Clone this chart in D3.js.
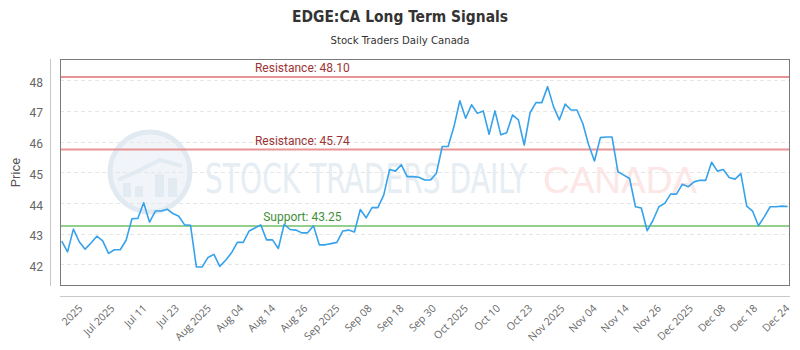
<!DOCTYPE html>
<html>
<head>
<meta charset="utf-8">
<script src="https://cdn.jsdelivr.net/npm/d3@7"></script>
<style>
  html, body { margin: 0; padding: 0; background: #fff; }
  svg { display: block; }
</style>
</head>
<body>
<svg id="chart" width="800" height="350"></svg>
<script>
// Daily closing prices, oldest first
const prices = [
  42.76, 42.41, 43.15, 42.74, 42.50, 42.70, 42.92, 42.77, 42.36, 42.48,
  42.48, 42.79, 43.49, 43.50, 44.01, 43.38, 43.74, 43.74, 43.80, 43.66,
  43.57, 43.29, 43.28, 41.92, 41.92, 42.23, 42.33, 41.94, 42.14, 42.38,
  42.72, 42.72, 43.09, 43.19, 43.29, 42.80, 42.80, 42.52, 43.31, 43.14,
  43.12, 43.03, 43.03, 43.26, 42.64, 42.64, 42.68, 42.72, 43.09, 43.12,
  43.06, 43.79, 43.52, 43.85, 43.85, 44.26, 45.09, 45.04, 45.25, 44.86,
  44.86, 44.84, 44.75, 44.75, 44.97, 45.84, 45.84, 46.49, 47.33, 46.76,
  47.20, 46.92, 47.00, 46.24, 47.00, 46.22, 46.29, 46.87, 46.71, 45.89,
  46.94, 47.27, 47.27, 47.79, 47.14, 46.71, 47.22, 47.03, 47.03, 46.59,
  45.90, 45.37, 46.13, 46.15, 46.15, 45.02, 44.91, 44.80, 43.88, 43.84,
  43.10, 43.44, 43.88, 43.99, 44.29, 44.29, 44.61, 44.53, 44.69, 44.74,
  44.74, 45.33, 45.04, 45.09, 44.83, 44.78, 44.96, 43.90, 43.74, 43.26,
  43.55, 43.88, 43.88, 43.90, 43.89
];

// Category labels shown along the date axis
const tickLabels = [
  "2025", "Jul 2025", "Jul 11", "Jul 23", "Aug 2025", "Aug 04", "Aug 14",
  "Aug 26", "Sep 2025", "Sep 08", "Sep 18", "Sep 30", "Oct 2025", "Oct 10",
  "Oct 23", "Nov 2025", "Nov 04", "Nov 14", "Nov 26", "Dec 2025", "Dec 08",
  "Dec 18", "Dec 24"
];

// Price axis ticks
const yTicks = [42, 43, 44, 45, 46, 47, 48];

// Signal levels
const levelNames  = ["Resistance", "Resistance", "Support"];
const levelValues = [48.10, 45.74, 43.25];
const levelKinds  = ["res", "res", "sup"];

const title = "EDGE:CA Long Term Signals";
const subtitle = "Stock Traders Daily Canada";

// ---- layout ----
const W = 800, H = 350;
const plot = { left: 60, right: 790, top: 59, bottom: 286 };
const svg = d3.select("#chart");

const x = d3.scaleLinear()
  .domain([0, prices.length - 1])
  .range([plot.left + 1.7, plot.right - 2.3]);

const y = d3.scaleLinear()
  .domain([41.3, 48.69])
  .range([plot.bottom, plot.top]);

// tick labels spread evenly along the category axis
const xTick = d3.scalePoint()
  .domain(tickLabels)
  .range([x(3.25), x(prices.length - 1)]);

// squeeze a text horizontally to a given width
function fitWidth(sel, px, py, width) {
  const natural = sel.node().getComputedTextLength();
  sel.attr("transform", `translate(${px},${py}) scale(${width / natural},1)`);
  return sel;
}

// ---- titles ----
svg.append("text")
  .attr("x", W / 2).attr("y", 22)
  .attr("text-anchor", "middle")
  .attr("font-family", "'DejaVu Sans Condensed','Liberation Sans Narrow',Roboto,sans-serif")
  .attr("font-weight", "bold")
  .attr("font-size", 16)
  .attr("textLength", 216)
  .attr("lengthAdjust", "spacingAndGlyphs")
  .attr("fill", "#333")
  .text(title);

svg.append("text")
  .attr("x", W / 2).attr("y", 44)
  .attr("text-anchor", "middle")
  .attr("font-family", "'DejaVu Sans Condensed','Liberation Sans Narrow',Roboto,sans-serif")
  .attr("font-size", 11)
  .attr("textLength", 139)
  .attr("lengthAdjust", "spacingAndGlyphs")
  .attr("fill", "#333")
  .text(subtitle);

// ---- watermark ----
const wm = svg.append("g").attr("class", "watermark");
const cx = 150, cy = 172, r = 40;
wm.append("circle").attr("cx", cx).attr("cy", cy).attr("r", r)
  .attr("fill", "#f1f5f9").attr("stroke", "#e1e9f1").attr("stroke-width", 5);
const barsW = [[-27, 8, 14], [-15, 8, 11], [5, 9, 23], [18, 9, 19]];
barsW.forEach(([dx, bw, bh]) => {
  wm.append("rect").attr("x", cx + dx).attr("y", cy + 25 - bh)
    .attr("width", bw).attr("height", bh).attr("fill", "#e2eaf2");
});
wm.append("path")
  .attr("d", `M${cx - 32},${cy + 8} L${cx - 10},${cy - 2} L${cx + 10},${cy - 12} L${cx + 32},${cy - 6}`)
  .attr("fill", "none").attr("stroke", "#e2eaf2").attr("stroke-width", 4);
fitWidth(wm.append("text")
  .attr("font-family", "'DejaVu Sans Condensed','Liberation Sans Narrow','Liberation Sans',sans-serif")
  .attr("font-size", 40)
  .attr("fill", "#e6edf3")
  .text("STOCK TRADERS DAILY"), 205, 193, 322);
fitWidth(wm.append("text")
  .attr("font-family", "'Liberation Sans',Arial,sans-serif")
  .attr("font-size", 37)
  .attr("fill", "#fce6e6")
  .text("CANADA"), 543, 193, 154);

// ---- grid ----
svg.append("g")
  .selectAll("line")
  .data(yTicks)
  .join("line")
  .attr("x1", plot.left).attr("x2", plot.right)
  .attr("y1", d => Math.round(y(d)) + 0.5).attr("y2", d => Math.round(y(d)) + 0.5)
  .attr("stroke", "#e6e6e6")
  .attr("stroke-dasharray", "4,3");

// ---- y axis ----
const yAxis = svg.append("g")
  .attr("transform", `translate(${plot.left - 10},0)`)
  .call(d3.axisLeft(y).tickValues(yTicks).tickSize(0).tickPadding(7).tickFormat(d3.format("d")));
yAxis.select(".domain").attr("stroke", "#c8c8c8")
  .attr("d", `M0.5,${plot.top}V${plot.bottom}`);
yAxis.selectAll("text")
  .attr("font-family", "Roboto,'Noto Sans',sans-serif")
  .attr("font-size", 12)
  .attr("fill", "#666")
  .attr("dy", "0.5em");

svg.append("text")
  .attr("transform", `translate(20,${(plot.top + plot.bottom) / 2}) rotate(-90)`)
  .attr("text-anchor", "middle")
  .attr("font-family", "Roboto,'Noto Sans',sans-serif")
  .attr("font-size", 13)
  .attr("fill", "#555")
  .text("Price");

// ---- x axis ----
const xAxis = svg.append("g")
  .attr("transform", `translate(0,${plot.bottom + 10})`)
  .call(d3.axisBottom(xTick).tickSize(0).tickPadding(0));
xAxis.select(".domain").attr("stroke", "#c8c8c8")
  .attr("d", `M${plot.left},0.5H${plot.right}`);
xAxis.selectAll(".tick text")
  .attr("font-family", "'Open Sans','Noto Sans',sans-serif")
  .attr("font-size", 10.5)
  .attr("fill", "#666")
  .attr("text-anchor", "end")
  .attr("dy", 0)
  .attr("transform", "translate(2,13) rotate(-45)");

// ---- signal levels ----
const levelColor = { res: "#e89494", sup: "#93cf8d" };
const labelColor = { res: "#9c3434", sup: "#3f8f3a" };
const labelX = plot.left + (plot.right - plot.left) * 0.332;
levelValues.forEach((v, i) => {
  const k = levelKinds[i];
  svg.append("line")
    .attr("x1", plot.left).attr("x2", plot.right)
    .attr("y1", y(v)).attr("y2", y(v))
    .attr("stroke", levelColor[k]).attr("stroke-width", 2);
  svg.append("text")
    .attr("x", labelX).attr("y", y(v) - 5)
    .attr("text-anchor", "middle")
    .attr("font-family", "Roboto,'Noto Sans',sans-serif")
    .attr("font-size", 12)
    .attr("fill", labelColor[k])
    .text(`${levelNames[i]}: ${v.toFixed(2)}`);
});

// ---- price line ----
svg.append("path")
  .datum(prices)
  .attr("fill", "none")
  .attr("stroke", "#36a2eb")
  .attr("stroke-width", 1.6)
  .attr("stroke-linejoin", "round")
  .attr("d", d3.line().x((d, i) => x(i)).y(d => y(d)));

// ---- plot frame ----
svg.append("rect")
  .attr("x", plot.left + 0.5).attr("y", plot.top + 0.5)
  .attr("width", plot.right - plot.left - 1).attr("height", plot.bottom - plot.top - 1)
  .attr("fill", "none")
  .attr("stroke", "#7a7a7a");
</script>
</body>
</html>
